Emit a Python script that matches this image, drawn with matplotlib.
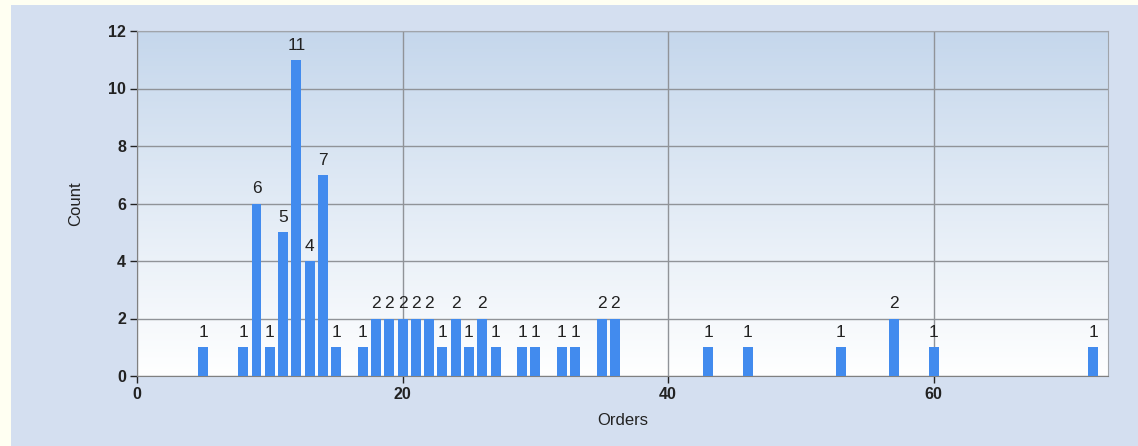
import matplotlib
matplotlib.use("Agg")
import matplotlib.pyplot as plt
import numpy as np
from matplotlib.patches import Rectangle

# order counts histogram
orders = [5, 8, 9, 10, 11, 12, 13, 14, 15, 17, 18, 19, 20, 21, 22, 23, 24, 25,
          26, 27, 29, 30, 32, 33, 35, 36, 43, 46, 53, 57, 60, 72]
counts = [1, 1, 6, 1, 5, 11, 4, 7, 1, 1, 2, 2, 2, 2, 2, 1, 2, 1,
          2, 1, 1, 1, 1, 1, 2, 2, 1, 1, 1, 2, 1, 1]

plt.rcParams["font.family"] = ["Liberation Sans", "DejaVu Sans"]

W, H = 1138, 446
fig = plt.figure(figsize=(W / 100, H / 100), dpi=100)
fig.patch.set_facecolor("#fffff2")
# blue panel behind the chart
fig.patches.append(Rectangle((11 / W, 0), 1 - 11 / W, 1 - 5 / H,
                             transform=fig.transFigure, facecolor="#d4dff0",
                             edgecolor="none", zorder=-10))

ax = fig.add_axes([137 / W, 70 / H, (1107.7 - 137) / W, (376 - 31) / H])
ax.set_xlim(0, 73.1)
ax.set_ylim(0, 12)

# vertical gradient in plot area
grad = np.linspace(0, 1, 256).reshape(-1, 1)
top = np.array([0.773, 0.843, 0.925])
bot = np.array([1.0, 1.0, 1.0])
img = bot + (top - bot) * grad[..., None]
ax.imshow(img, extent=[0, 73.1, 0, 12], origin="lower", aspect="auto", zorder=0)

ax.bar(orders, counts, width=0.75, color="#428bee", zorder=3)
for x, c in zip(orders, counts):
    ax.text(x, c + 0.25, str(c), ha="center", va="bottom", fontsize=12.5,
            color="#222222", zorder=4)

ax.set_xticks([0, 20, 40, 60])
ax.set_yticks(range(0, 13, 2))
ax.grid(True, color="#909398", linewidth=1, zorder=1)
ax.set_axisbelow(True)
for s in ["top", "right"]:
    ax.spines[s].set_color("#a0a4aa")
for s in ["left", "bottom"]:
    ax.spines[s].set_color("#808080")
ax.tick_params(axis="both", length=5, width=1, color="#222222",
               labelsize=11.5, pad=3)
for lab in ax.get_xticklabels() + ax.get_yticklabels():
    lab.set_fontweight("bold")
    lab.set_color("#222222")

ax.set_xlabel("Orders", fontsize=12, color="#222222", labelpad=8)
ax.set_ylabel("Count", fontsize=12, color="#222222", labelpad=18)

fig.savefig("out.png", dpi=100, facecolor=fig.get_facecolor())
